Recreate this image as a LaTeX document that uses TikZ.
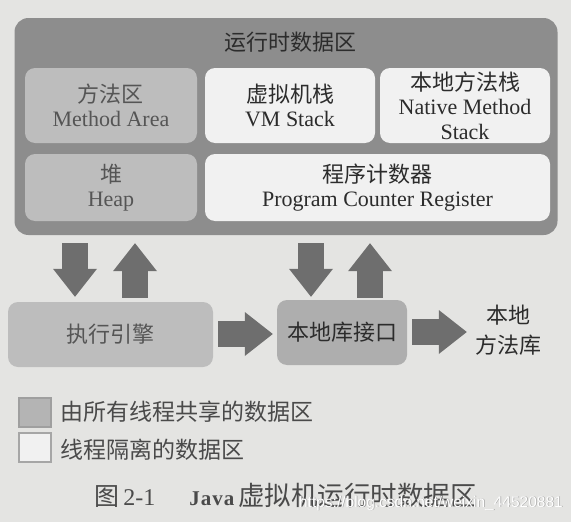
\documentclass[tikz,border=0pt]{standalone}
\usepackage{fontspec}
\setmainfont{Liberation Serif}
\newfontfamily\cjk{Noto Sans CJK SC}
\newfontfamily\wmfont{Liberation Sans}
\usetikzlibrary{arrows.meta}
\definecolor{pagebg}{HTML}{E4E4E2}
\definecolor{outerc}{HTML}{8D8D8D}
\definecolor{sharedc}{HTML}{BDBDBD}
\definecolor{privc}{HTML}{F1F1F1}
\definecolor{arrowc}{HTML}{6E6E6E}
\definecolor{txtc}{HTML}{2C2C2C}
\definecolor{txtlight}{HTML}{555555}
\definecolor{captc}{HTML}{4A4A4A}
\tikzset{
  region/.style={rounded corners=10pt, inner sep=0pt, align=center, text=txtc,
    font=\fontsize{22}{24.5}\selectfont},
  shared/.style={region, fill=sharedc, text=txtlight},
  private/.style={region, fill=privc},
  vbar/.style={draw=arrowc, line width=26pt,
    -{Triangle[width=44pt, length=28pt, line width=0pt]}},
  hbar/.style={draw=arrowc, line width=26pt,
    -{Triangle[width=44pt, length=28pt, line width=0pt]}},
  keybox/.style={minimum width=32pt, minimum height=29pt, inner sep=0pt, line width=1.3pt},
  plain/.style={inner sep=0pt, text=txtc, font=\fontsize{22}{30}\selectfont, align=center},
  wmstyle/.style={inner sep=0pt, anchor=east, font=\wmfont\fontsize{15.5}{18}\selectfont}
}
\begin{document}
\begin{tikzpicture}[x=1pt,y=-1pt]
\fill[pagebg] (0,0) rectangle (571,522);
\useasboundingbox (0,0) rectangle (571,522);

\node[rounded corners=14pt, fill=outerc, minimum width=543pt, minimum height=217pt, inner sep=0pt] (outer) at (286,126.5) {};
\node[plain] (title) at (290,42) {\cjk 运行时数据区};

\node[shared, minimum width=172pt, minimum height=75pt] (method) at (111,105.5) {{\cjk 方法区}\\Method Area};
\node[private, minimum width=170pt, minimum height=75pt] (vmstack) at (290,105.5) {{\cjk 虚拟机栈}\\VM Stack};
\node[private, minimum width=170pt, minimum height=75pt] (nstack) at (465,105.5) {{\cjk 本地方法栈}\\Native Method\\Stack};
\node[shared, minimum width=172pt, minimum height=67pt] (heap) at (111,187.5) {{\cjk 堆}\\Heap};
\node[private, minimum width=345pt, minimum height=67pt] (pc) at (377.5,187.5) {{\cjk 程序计数器}\\Program Counter Register};

\node[shared, minimum width=205pt, minimum height=65pt] (engine) at (110.5,334.5) {\cjk 执行引擎};
\node[shared, fill=sharedc!92!black, text=txtc, minimum width=130pt, minimum height=65pt] (nif) at (342,332.5) {\cjk 本地库接口};
\node[plain] (lib) at (508,330) {\cjk 本地\\\cjk 方法库};

\coordinate (c1) at (75,0);
\coordinate (c2) at (135,0);
\coordinate (c3) at (311,0);
\coordinate (c4) at (370,0);
\draw[vbar, shorten <=8pt, shorten >=5pt] (outer.south -| c1) -- (engine.north -| c1);
\draw[vbar, shorten <=4pt, shorten >=8pt] (engine.north -| c2) -- (outer.south -| c2);
\draw[vbar, shorten <=8pt, shorten >=3pt] (outer.south -| c3) -- (nif.north -| c3);
\draw[vbar, shorten <=2pt, shorten >=8pt] (nif.north -| c4) -- (outer.south -| c4);
\draw[hbar, shorten <=5pt, shorten >=4pt] (engine.east |- 0,334) -- (nif.west |- 0,334);
\draw[hbar, shorten <=5pt, shorten >=8pt] (nif.east |- 0,332) -- (lib.west |- 0,332);

\node[keybox, fill=sharedc!95!black, draw=gray!75] (k1) at (35,412.5) {};
\node[keybox, fill=privc, draw=gray!70] (k2) at (35,447.5) {};
\node[plain, anchor=west, text=captc, font=\fontsize{23}{28}\selectfont] (k1t) at (60,412) {\cjk 由所有线程共享的数据区};
\node[plain, anchor=west, text=captc, font=\fontsize{23}{28}\selectfont] (k2t) at (60,450) {\cjk 线程隔离的数据区};

\node[plain, anchor=west, text=captc, font=\fontsize{25}{30}\selectfont] (cap) at (94,495) {{\cjk 图}\,{\fontsize{24}{30}\selectfont 2-1}\hspace{34pt}{\bfseries\fontsize{21}{30}\selectfont J\kern1pt a\kern1pt v\kern1pt a}\hspace{4pt}{\cjk\fontsize{26.5}{30}\selectfont 虚拟机运行时数据区}};
\node[wmstyle, text=gray, opacity=0.6] (wmshade) at (563.8,503.8) {https://blog.csdn.net/weixin\_44520881};
\node[wmstyle, text=white] (wm) at (563,503) {https://blog.csdn.net/weixin\_44520881};
\end{tikzpicture}
\end{document}
